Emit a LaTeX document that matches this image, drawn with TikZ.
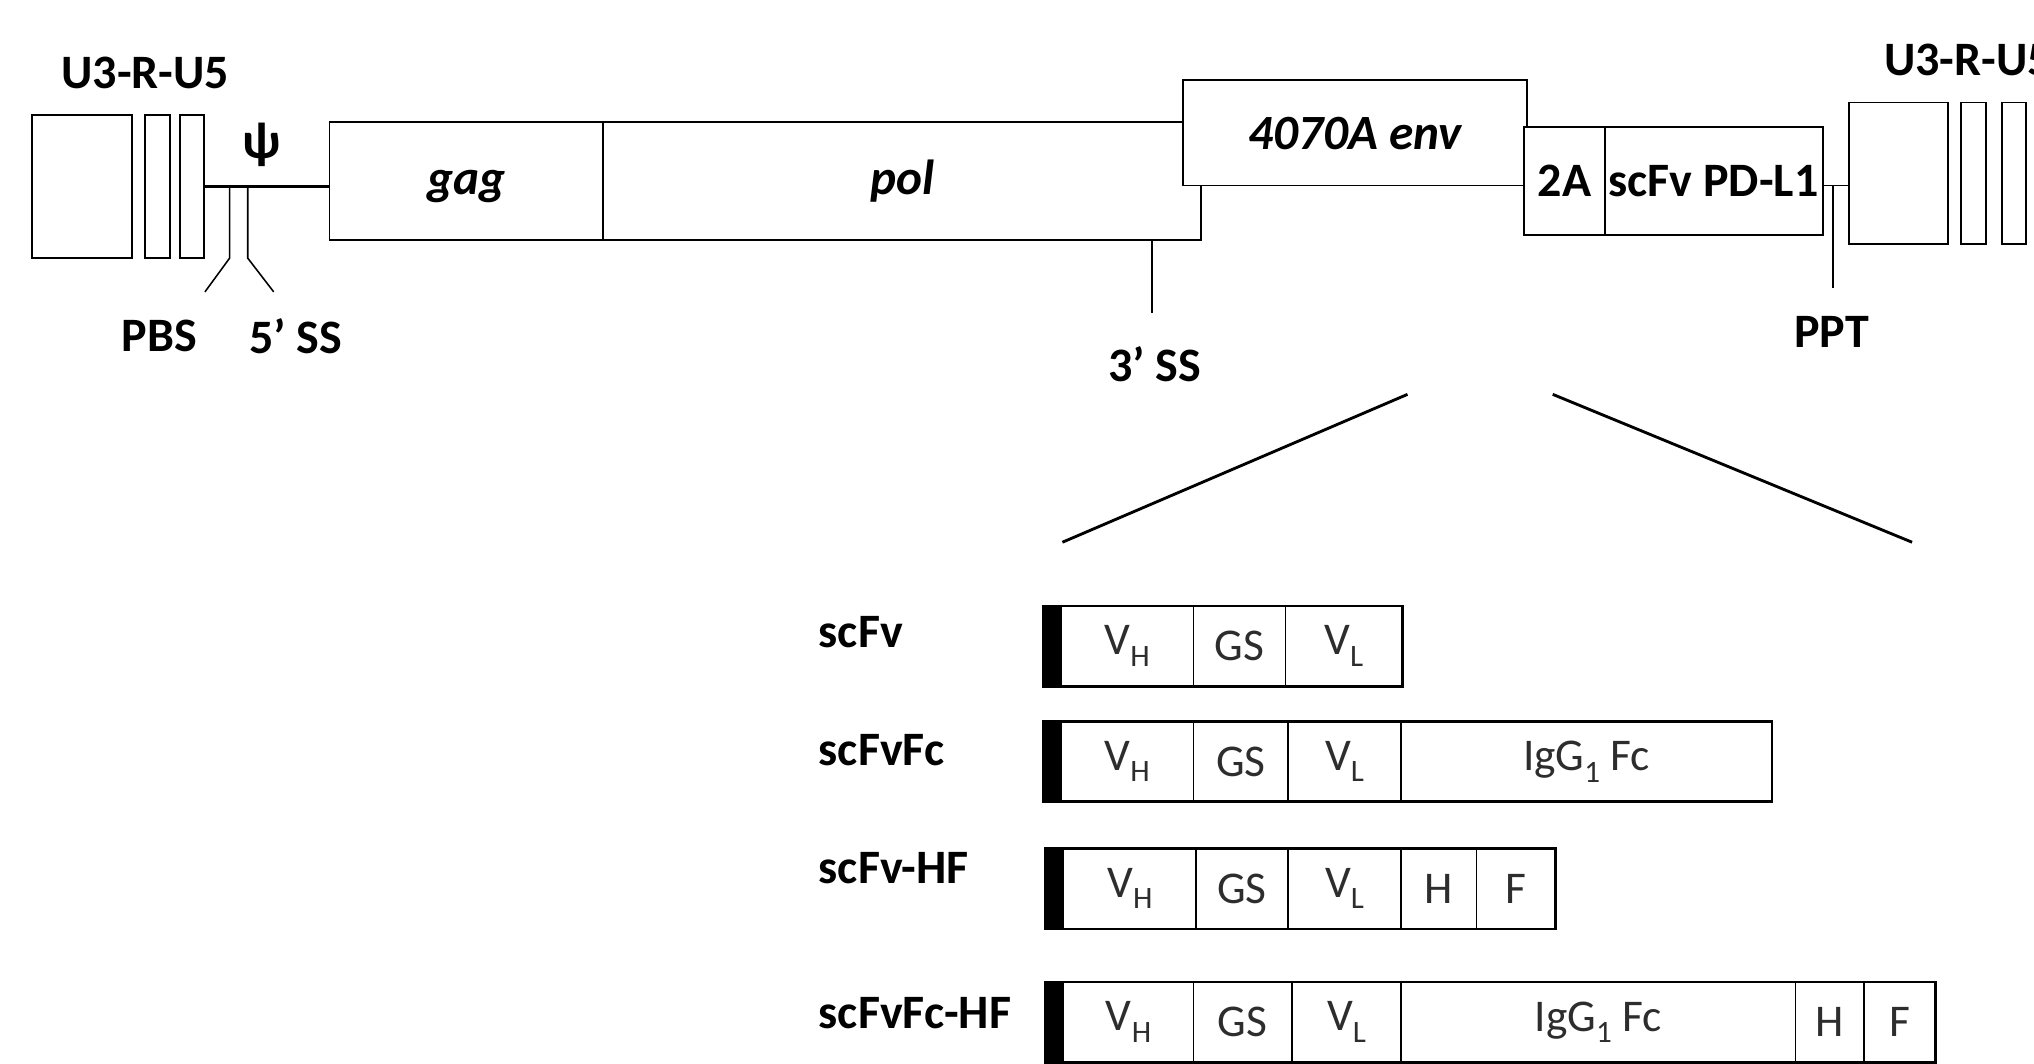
\documentclass[tikz,border=0pt]{standalone}
\usepackage{fontspec}
\setmainfont{Carlito}
\definecolor{segtext}{RGB}{45,45,45}
\newcommand\lowsub[1]{\raisebox{-9pt}{\fontsize{24}{26}\selectfont #1}}
\begin{document}
\begin{tikzpicture}[x=1pt,y=-1pt,
  box/.style={draw, line width=1.5pt, inner sep=0pt, outer sep=0pt, fill=white},
  lbl/.style={font=\fontsize{37}{40}\selectfont\bfseries, inner sep=0pt},
  ital/.style={font=\fontsize{38}{40}\selectfont\bfseries\itshape, text depth=0pt},
  seg/.style={draw, line width=1.1pt, inner sep=0pt, outer sep=0pt, minimum height=62pt, anchor=west, text=segtext, font=\fontsize{35}{38}\selectfont},
  blackbar/.style={draw, fill=black, line width=1.1pt, inner sep=0pt, outer sep=0pt, minimum height=62pt, minimum width=14pt, anchor=west},
  frame/.style={line width=2pt},
  tick/.style={line width=1.2pt},
  thickline/.style={line width=2.6pt},
  zoomline/.style={line width=2.2pt},
]
\useasboundingbox (0,0) rectangle (1568,820);

% ---------- top: provirus ----------
\node[box, minimum width=77, minimum height=110] (ltrA) at (63.5,144) {};
\node[box, minimum width=19, minimum height=110] (ltrB) at (121.5,144) {};
\node[box, minimum width=18, minimum height=110] (ltrC) at (148,144) {};
\node[lbl] (u3a) at (112,56) {U3-R-U5};

\node[box, minimum width=211, minimum height=91, ital, text height=21pt] (gag) at (359.5,139.5) {gag};
\node[box, minimum width=461, minimum height=91, ital, text height=21pt] (pol) at (695.5,139.5) {pol};
\node[box, minimum width=265, minimum height=81, ital, text height=26pt] (env) at (1044.5,102.5) {4070A env};
\node[box, minimum width=62, minimum height=83, lbl] (twoA) at (1206,139.5) {2A};
\node[box, minimum width=168, minimum height=83, lbl] (pdl1) at (1321,139.5) {scFv PD-L1};

\node[box, minimum width=77, minimum height=109] (ltrD) at (1463.5,133.5) {};
\node[box, minimum width=19, minimum height=109] (ltrE) at (1521.5,133.5) {};
\node[box, minimum width=19, minimum height=109] (ltrF) at (1552.5,133.5) {};
\node[lbl] (u3b) at (1517,46) {U3-R-U5};

% psi line
\draw[thickline] (ltrC.east) -- (ltrC.east -| gag.west);
\node[lbl, font=\fontsize{40}{42}\selectfont\bfseries] (psi) at (202,112) {ψ};

% PBS and 5' SS
\coordinate (pbsT) at (177,145);
\coordinate (pbsM) at (177,199);
\coordinate (pbsB) at (158,225);
\coordinate (ssT) at (191,145);
\coordinate (ssM) at (191,199);
\coordinate (ssB) at (211,225);
\draw[tick] (pbsT) -- (pbsM) -- (pbsB);
\draw[tick] (ssT) -- (ssM) -- (ssB);
\node[lbl] (pbs) at (123,259) {PBS};
\node[lbl] (ss5) at (228,259) {5’ SS};

% 3' SS
\coordinate (ss3T) at (888,185);
\coordinate (ss3B) at (888,241);
\draw[tick] (ss3T) -- (ss3B);
\node[lbl] (ss3) at (890,281) {3’ SS};

% PPT
\draw[tick] (pdl1.east |- env.south) -- (ltrD.west |- env.south);
\coordinate (pptT) at (1413,143);
\coordinate (pptB) at (1413,222);
\draw[tick] (pptT) -- (pptB);
\node[lbl] (ppt) at (1412,256) {PPT};

% expansion lines
\coordinate (e1a) at (1085,304);
\coordinate (e1b) at (819,418);
\coordinate (e2a) at (1197,304);
\coordinate (e2b) at (1474,418);
\draw[zoomline] (e1a) -- (e1b);
\draw[zoomline] (e2a) -- (e2b);

% ---------- constructs ----------
% scFv
\node[lbl, anchor=west] (l1) at (631,487) {scFv};
\node[blackbar] (b1) at (804,498) {};
\node[seg, minimum width=102] (vh1) at (818,498) {V\lowsub{H}};
\node[seg, minimum width=71] (gs1) at (920,498) {GS};
\node[seg, minimum width=90] (vl1) at (991,498) {V\lowsub{L}};
\draw[frame] (b1.north west) rectangle (vl1.south east);

% scFvFc
\node[lbl, anchor=west] (l2) at (631,578) {scFvFc};
\node[blackbar] (b2) at (804,587) {};
\node[seg, minimum width=102] (vh2) at (818,587) {V\lowsub{H}};
\node[seg, minimum width=73] (gs2) at (920,587) {GS};
\node[seg, minimum width=87] (vl2) at (993,587) {V\lowsub{L}};
\node[seg, minimum width=286] (fc2) at (1080,587) {IgG\lowsub{1} Fc};
\draw[frame] (b2.north west) rectangle (fc2.south east);

% scFv-HF
\node[lbl, anchor=west] (l3) at (631,669) {scFv-HF};
\node[blackbar] (b3) at (806,685) {};
\node[seg, minimum width=102] (vh3) at (820,685) {V\lowsub{H}};
\node[seg, minimum width=71] (gs3) at (922,685) {GS};
\node[seg, minimum width=87] (vl3) at (993,685) {V\lowsub{L}};
\node[seg, minimum width=58] (h3) at (1080,685) {H};
\node[seg, minimum width=61] (f3) at (1138,685) {F};
\draw[frame] (b3.north west) rectangle (f3.south east);

% scFvFc-HF
\node[lbl, anchor=west] (l4) at (631,781) {scFvFc-HF};
\node[blackbar] (b4) at (806,788) {};
\node[seg, minimum width=100] (vh4) at (820,788) {V\lowsub{H}};
\node[seg, minimum width=76] (gs4) at (920,788) {GS};
\node[seg, minimum width=84] (vl4) at (996,788) {V\lowsub{L}};
\node[seg, minimum width=304] (fc4) at (1080,788) {IgG\lowsub{1} Fc};
\node[seg, minimum width=53] (h4) at (1384,788) {H};
\node[seg, minimum width=55] (f4) at (1437,788) {F};
\draw[frame] (b4.north west) rectangle (f4.south east);
\end{tikzpicture}
\end{document}
